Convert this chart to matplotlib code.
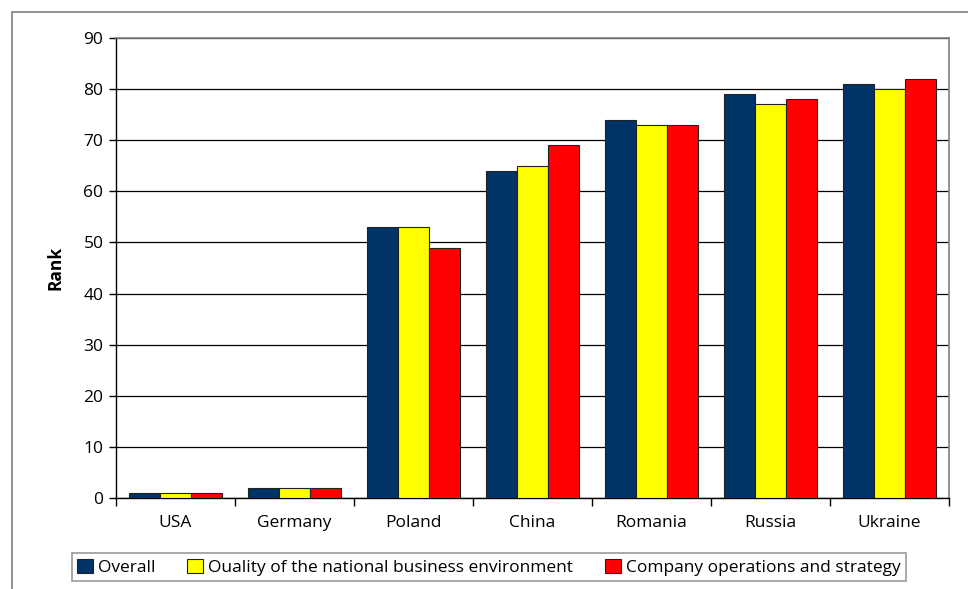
import matplotlib
matplotlib.use("Agg")
import matplotlib.pyplot as plt
import numpy as np
from matplotlib.patches import Rectangle

categories = ["USA", "Germany", "Poland", "China", "Romania", "Russia", "Ukraine"]
overall = [1, 2, 53, 64, 74, 79, 81]
quality = [1, 2, 53, 65, 73, 77, 80]
company = [1, 2, 49, 69, 73, 78, 82]
series_names = ["Overall", "Ouality of the national business environment",
                "Company operations and strategy"]
colors = ["#003366", "#FFFF00", "#FF0000"]
yticks = [0, 10, 20, 30, 40, 50, 60, 70, 80, 90]

plt.rcParams['font.family'] = ['Open Sans', 'DejaVu Sans']

W, H = 968, 589
fig = plt.figure(figsize=(W / 100, H / 100), dpi=100)
L, R, T, B = 116, 949, 38, 498
ax = fig.add_axes([L / W, 1 - B / H, (R - L) / W, (B - T) / H])

# outer chart border
fig.patches.append(Rectangle((12 / W, -0.1), 1.2, (1 - 12 / H) + 0.1,
                             transform=fig.transFigure, fill=False,
                             edgecolor="#808080", linewidth=1.2, zorder=0))

x = np.arange(len(categories))
bw = 0.263
for i, (vals, c, name) in enumerate(zip([overall, quality, company], colors, series_names)):
    ax.bar(x + (i - 1) * bw, vals, width=bw, color=c, edgecolor="#222222",
           linewidth=0.8, label=name, zorder=3)

ax.set_xlim(-0.5, len(categories) - 0.5)
ax.set_ylim(0, 90)
ax.set_yticks(yticks)
ax.set_yticklabels([str(v) for v in yticks], fontsize=12.5)
ax.yaxis.grid(True, color="black", linewidth=0.9, zorder=0)
ax.set_axisbelow(True)

ax.set_xticks(x)
ax.set_xticklabels(categories, fontsize=12.5)
ax.tick_params(axis="x", which="major", length=0, pad=12)
ax.set_xticks(np.arange(-0.5, len(categories)), minor=True)
ax.tick_params(axis="x", which="minor", length=6, width=1, color="black", direction="out")
ax.tick_params(axis="y", length=5, width=1, direction="out", pad=4)

for s in ["left", "bottom"]:
    ax.spines[s].set_color("black")
    ax.spines[s].set_linewidth(1)
for s in ["top", "right"]:
    ax.spines[s].set_color("#808080")
    ax.spines[s].set_linewidth(1.2)

ax.set_ylabel("Rank", fontsize=12.5, fontweight="bold", labelpad=14)

leg = fig.legend(loc="lower left", bbox_to_anchor=(72 / W, 1 - 581 / H, (906 - 72) / W, (581 - 546) / H),
                 ncol=3, mode="expand", fontsize=12.5, frameon=True, fancybox=False,
                 handlelength=0.9, handleheight=0.9, handletextpad=0.3, columnspacing=1.2,
                 borderaxespad=0, borderpad=0.3)
leg.get_frame().set_edgecolor("#808080")
leg.get_frame().set_linewidth(1.2)

fig.savefig("out.png", dpi=100)
